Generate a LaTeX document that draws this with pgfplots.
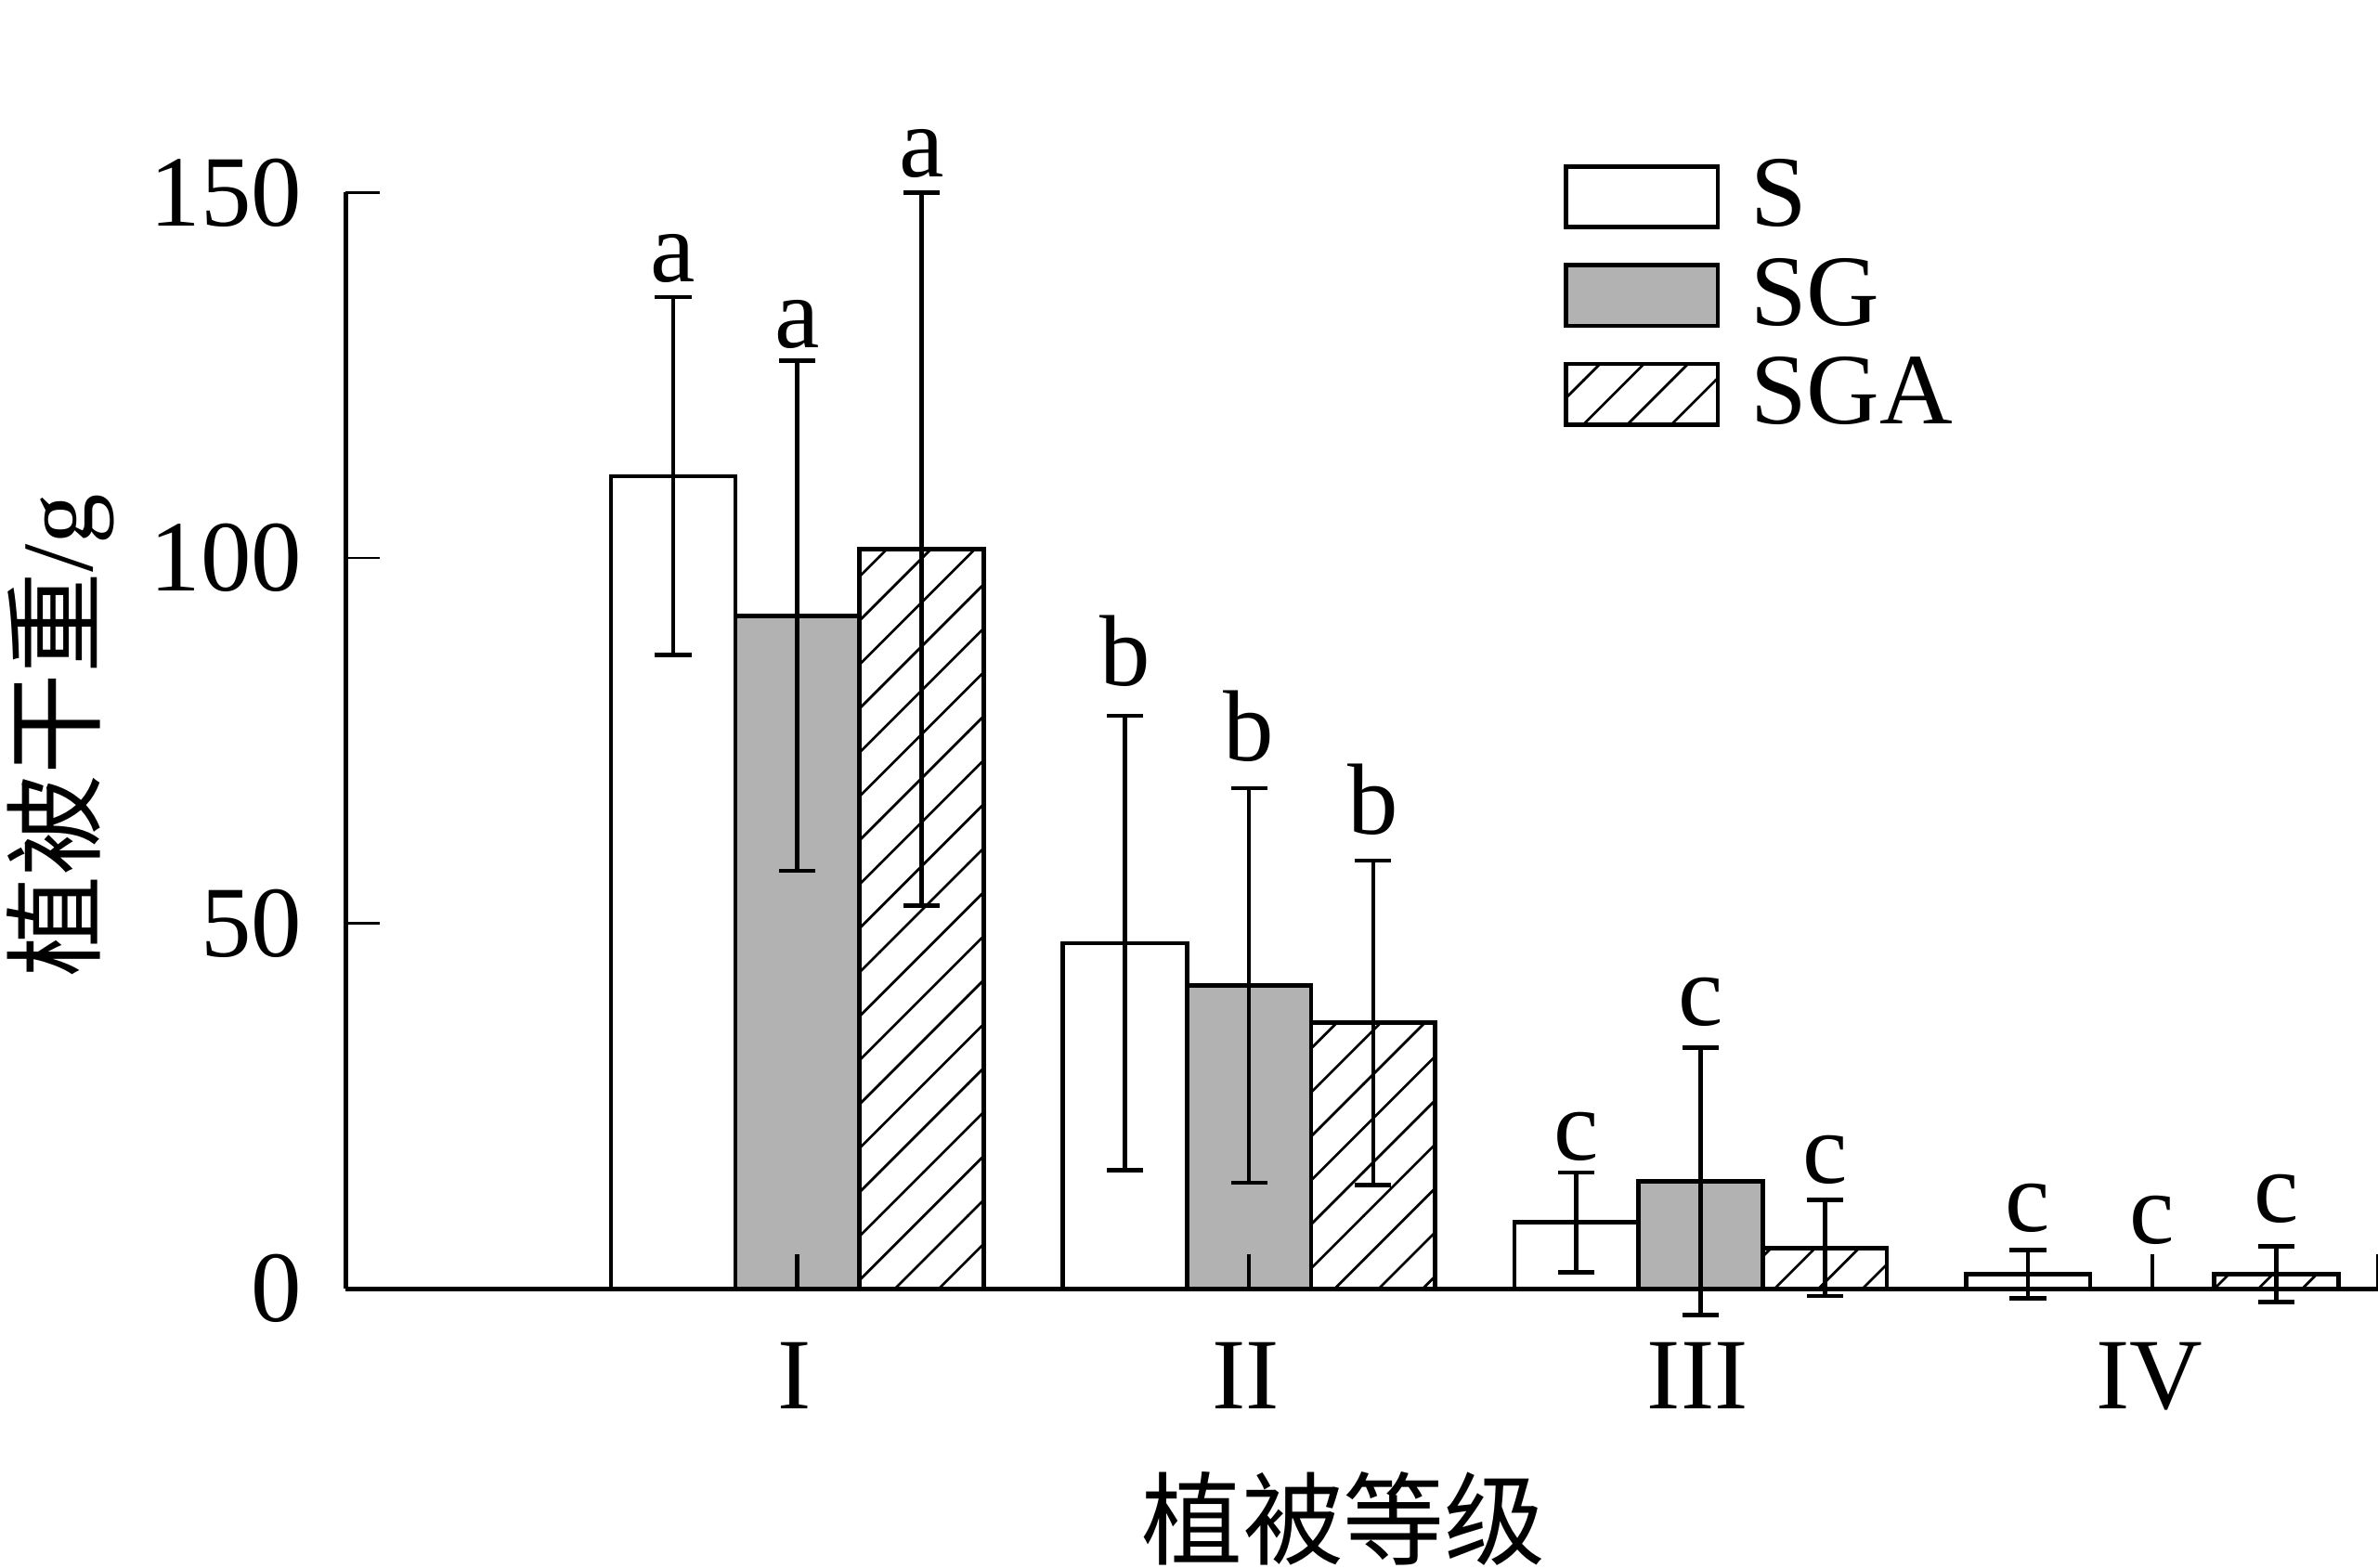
\documentclass[border=0pt]{standalone}
\usepackage{fontspec}
\setmainfont{Liberation Serif}
\newfontfamily\cjk{Noto Sans CJK SC}
\usepackage{pgfplots}
\pgfplotsset{compat=1.18}
\usetikzlibrary{patterns}

\definecolor{bargray}{RGB}{178,178,178}
\newcommand\bigfont{\fontsize{20}{24}\selectfont}

% wide 45 degree hatching for the SGA bars
\pgfdeclarepatternformonly{widelines}{\pgfqpoint{-1pt}{-1pt}}{\pgfqpoint{9.7pt}{9.7pt}}{\pgfqpoint{8.7pt}{8.7pt}}{%
  \pgfsetlinewidth{0.5pt}%
  \pgfpathmoveto{\pgfqpoint{0pt}{0pt}}%
  \pgfpathlineto{\pgfqpoint{8.8pt}{8.8pt}}%
  \pgfusepath{stroke}}

\pgfplotsset{
  mybar/.style={ybar, bar width=0.275, bar shift=0pt, draw=black, line width=0.85pt},
}

\begin{document}
\begin{tikzpicture}
\begin{axis}[
  name=ax,
  width=402pt, height=216.9pt, scale only axis,
  xmin=0, xmax=4.5, ymin=0, ymax=150,
  clip=false, axis on top,
  axis x line=bottom, axis y line=left,
  axis line style={-, line width=0.85pt},
  tick align=inside,
  major tick length=6.8pt,
  xtick={1,2,3,4,4.5}, xticklabels={I,II,III,IV,{}},
  ytick={0,50,100,150},
  xtick style={line width=0.85pt, black},
  ytick style={line width=0.5pt, black},
  tick label style={font=\bigfont},
  /pgf/number format/assume math mode=true,
  xticklabel style={inner sep=0pt, yshift=-10.5pt, xshift=-0.6pt},
  yticklabel style={inner sep=0pt, xshift=-8.5pt},
  xlabel={\cjk 植被等级},
  ylabel={{\cjk 植被干重}/g},
  label style={font=\bigfont},
  xlabel style={at={(axis description cs:0.491,-0.21)}, anchor=center},
  ylabel style={at={(axis description cs:-0.1403,0.505)}, anchor=center},
  error bars/y dir=both, error bars/y explicit,
  error bars/error bar style={line width=0.85pt, black},
  error bars/error mark options={rotate=90, mark size=3.6pt, line width=0.85pt, black},
  legend image code/.code={\draw[#1] (0pt,-6pt) rectangle (30pt,6pt);},
  legend cell align=left,
  legend style={draw=none, fill=none, font=\bigfont, at={(0.599,1.031)}, anchor=north west,
    inner sep=0pt, row sep=4.8pt, column sep=6pt, nodes={inner sep=0pt}},
]

% S
\addplot[mybar, fill=white] coordinates {
  (0.725,111.2) +- (0,24.5)
  (1.725,47.3)  +- (0,31.1)
  (2.725,9.1)   +- (0,6.8)
  (3.725,2.0)   +- (0,3.3)
};
% SG (grade IV is zero, no bar drawn)
\addplot[mybar, fill=bargray] coordinates {
  (1,92.1) +- (0,34.9)
  (2,41.5) +- (0,27.0)
  (3,14.7) +- (0,18.3)
};
% SGA
\addplot[mybar, pattern=widelines] coordinates {
  (1.275,101.2) +- (0,48.8)
  (2.275,36.4)  +- (0,22.2)
  (3.275,5.6)   +- (0,6.6)
  (4.275,2.0)   +- (0,3.8)
};
\legend{S,SG,SGA}

% significance letters
\addplot[forget plot, draw=none, mark=none, error bars/y dir=none,
  nodes near coords, point meta=explicit symbolic,
  nodes near coords style={anchor=base, font=\bigfont, inner sep=0pt, black}]
  table[meta=lab, row sep=\\] {
  x y lab\\
  0.725 137.8 a\\
  1 128.8 a\\
  1.275 152.1 a\\
  1.725 82.6 b\\
  2 72.2 b\\
  2.275 62.2 b\\
  2.725 17.6 c\\
  3 36.1 c\\
  3.275 14.5 c\\
  3.725 7.9 c\\
  4 6.2 c\\
  4.275 9.1 c\\
};
\end{axis}
\pgfresetboundingbox
\path (ax.south west) ++(-68.4pt,-55.2pt) rectangle ++(470.4pt,310.2pt);
\end{tikzpicture}
\end{document}
